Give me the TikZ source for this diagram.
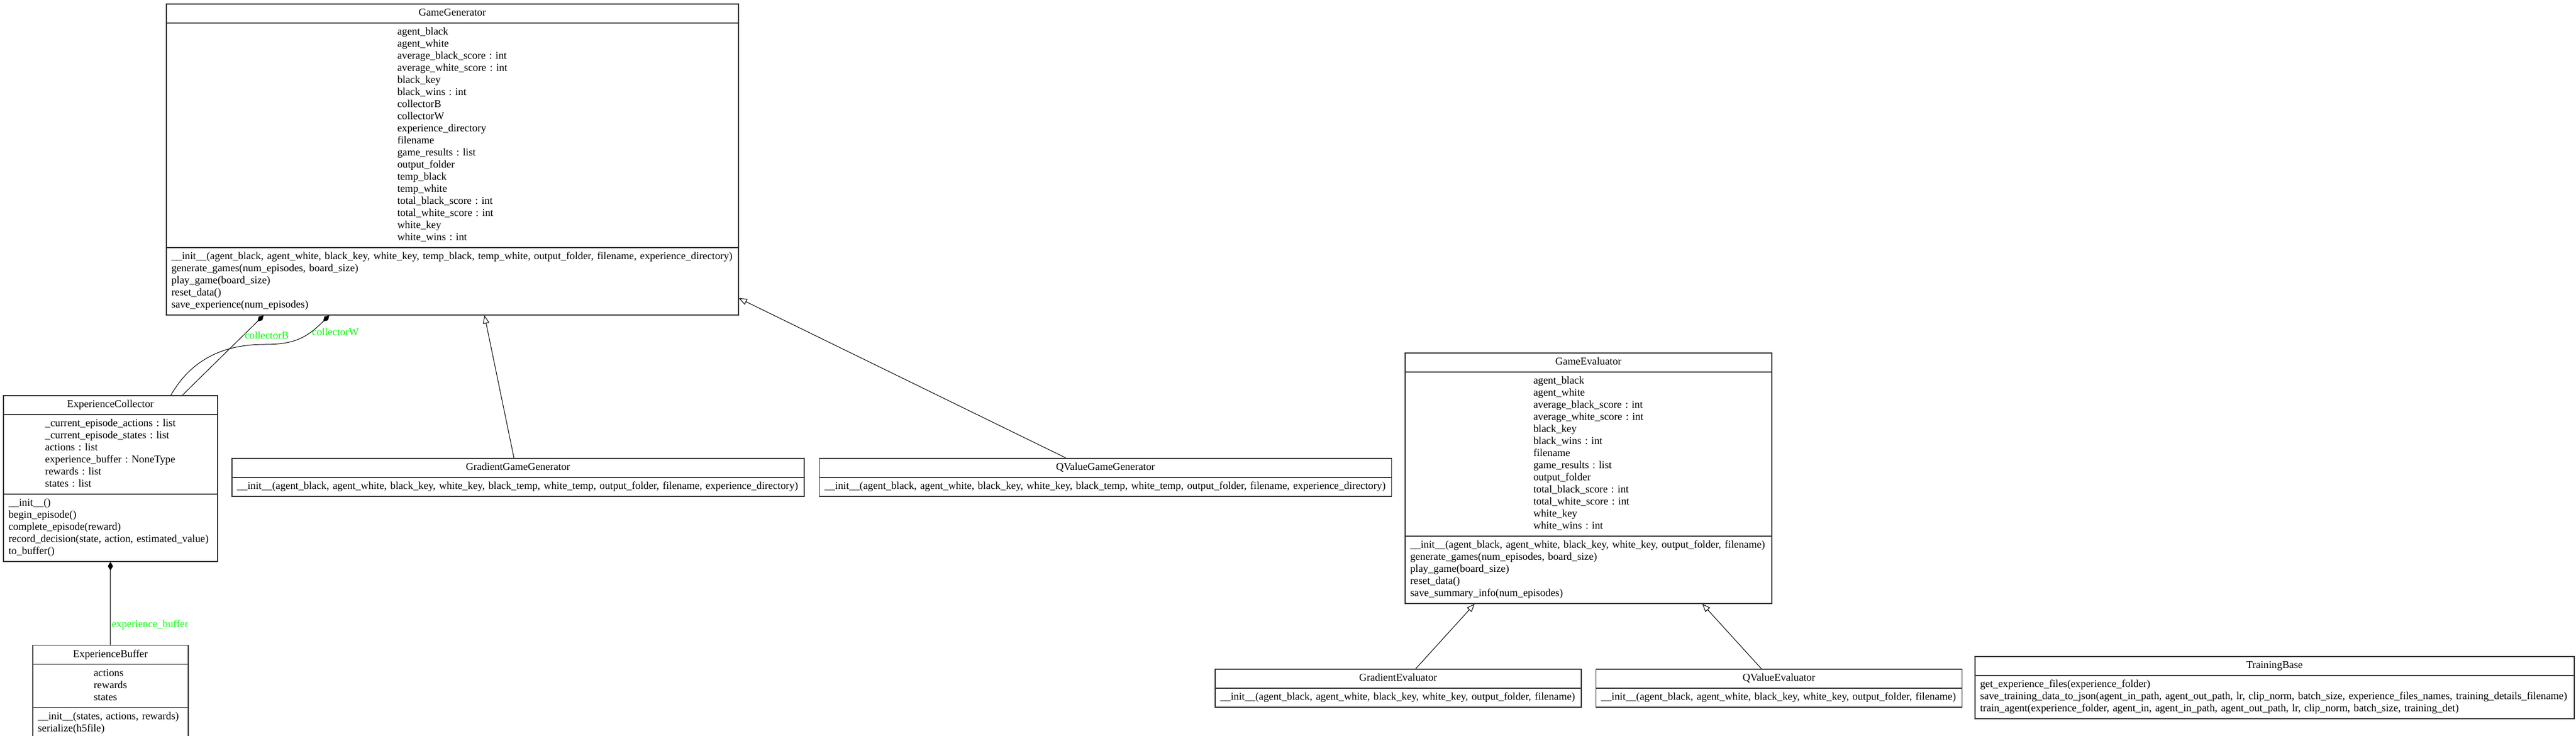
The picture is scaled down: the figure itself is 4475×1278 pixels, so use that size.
\documentclass[tikz,border=0pt]{standalone}
\usepackage{fontspec}
\setmainfont{Liberation Serif}
\usetikzlibrary{arrows.meta,positioning,shapes.multipart}
\tikzset{
  umlclass/.style={rectangle split, rectangle split parts=3, draw=black!80, line width=0.8pt, align=left, inner xsep=4.5pt, inner ysep=2.6pt, anchor=north west},
  umlshort/.style={umlclass, rectangle split parts=2},
  gen/.style={-{Triangle[open, length=7pt, width=5.5pt]}, line width=0.5pt},
  compo/.style={-{Diamond[length=7.5pt, width=4.5pt]}, line width=0.5pt},
  lbl/.style={text=green, inner sep=1pt, anchor=west}
}

\begin{document}
\begin{tikzpicture}[x=0.5pt, y=-0.5pt, font=\fontsize{9.15}{10.5}\selectfont\frenchspacing]
  \useasboundingbox (0,0) rectangle (4475,1278);

  % generators
  \node[umlclass, text width=488pt] (gamegen) at (288,6) {\makebox[\linewidth]{\strut GameGenerator}
    \nodepart{two}\makebox[\linewidth]{\begin{tabular}{@{}l@{}}agent\_black\\agent\_white\\average\_black\_score : int\\average\_white\_score : int\\black\_key\\black\_wins : int\\collectorB\\collectorW\\experience\_directory\\filename\\game\_results : list\\output\_folder\\temp\_black\\temp\_white\\total\_black\_score : int\\total\_white\_score : int\\white\_key\\white\_wins : int\end{tabular}}
    \nodepart{three}\begin{tabular}{@{}l@{}}\_\_init\_\_(agent\_black, agent\_white, black\_key, white\_key, temp\_black, temp\_white, output\_folder, filename, experience\_directory)\\generate\_games(num\_episodes, board\_size)\\play\_game(board\_size)\\reset\_data()\\save\_experience(num\_episodes)\end{tabular}};
  \node[umlshort, text width=488pt] (gradgen) at (402,795) {\makebox[\linewidth]{\strut GradientGameGenerator}
    \nodepart{two}\begin{tabular}{@{}l@{}}\_\_init\_\_(agent\_black, agent\_white, black\_key, white\_key, black\_temp, white\_temp, output\_folder, filename, experience\_directory)\end{tabular}};
  \node[umlshort, text width=488pt, right=12.5pt of gradgen] (qvalgen) {\makebox[\linewidth]{\strut QValueGameGenerator}
    \nodepart{two}\begin{tabular}{@{}l@{}}\_\_init\_\_(agent\_black, agent\_white, black\_key, white\_key, black\_temp, white\_temp, output\_folder, filename, experience\_directory)\end{tabular}};

  % experience
  \node[umlclass, text width=177pt] (expcoll) at (5,686) {\makebox[\linewidth]{\strut ExperienceCollector}
    \nodepart{two}\makebox[\linewidth]{\begin{tabular}{@{}l@{}}\_current\_episode\_actions : list\\\_current\_episode\_states : list\\actions : list\\experience\_buffer : NoneType\\rewards : list\\states : list\end{tabular}}
    \nodepart{three}\begin{tabular}{@{}l@{}}\_\_init\_\_()\\begin\_episode()\\complete\_episode(reward)\\record\_decision(state, action, estimated\_value)\\to\_buffer()\end{tabular}};
  \node[umlclass, text width=126pt, below=72pt of expcoll] (expbuf) {\makebox[\linewidth]{\strut ExperienceBuffer}
    \nodepart{two}\makebox[\linewidth]{\begin{tabular}{@{}l@{}}actions\\rewards\\states\end{tabular}}
    \nodepart{three}\begin{tabular}{@{}l@{}}\_\_init\_\_(states, actions, rewards)\\serialize(h5file)\end{tabular}};

  % evaluators
  \node[umlclass, text width=309.5pt] (gameeval) at (2440,612) {\makebox[\linewidth]{\strut GameEvaluator}
    \nodepart{two}\makebox[\linewidth]{\begin{tabular}{@{}l@{}}agent\_black\\agent\_white\\average\_black\_score : int\\average\_white\_score : int\\black\_key\\black\_wins : int\\filename\\game\_results : list\\output\_folder\\total\_black\_score : int\\total\_white\_score : int\\white\_key\\white\_wins : int\end{tabular}}
    \nodepart{three}\begin{tabular}{@{}l@{}}\_\_init\_\_(agent\_black, agent\_white, black\_key, white\_key, output\_folder, filename)\\generate\_games(num\_episodes, board\_size)\\play\_game(board\_size)\\reset\_data()\\save\_summary\_info(num\_episodes)\end{tabular}};
  \node[umlshort, text width=309pt] (gradeval) at (2110,1161) {\makebox[\linewidth]{\strut GradientEvaluator}
    \nodepart{two}\begin{tabular}{@{}l@{}}\_\_init\_\_(agent\_black, agent\_white, black\_key, white\_key, output\_folder, filename)\end{tabular}};
  \node[umlshort, text width=309pt, right=12pt of gradeval] (qvaleval) {\makebox[\linewidth]{\strut QValueEvaluator}
    \nodepart{two}\begin{tabular}{@{}l@{}}\_\_init\_\_(agent\_black, agent\_white, black\_key, white\_key, output\_folder, filename)\end{tabular}};

  % training
  \node[umlshort, text width=511.5pt] (trainbase) at (3430,1139) {\makebox[\linewidth]{\strut TrainingBase}
    \nodepart{two}\begin{tabular}{@{}l@{}}get\_experience\_files(experience\_folder)\\save\_training\_data\_to\_json(agent\_in\_path, agent\_out\_path, lr, clip\_norm, batch\_size, experience\_files\_names, training\_details\_filename)\\train\_agent(experience\_folder, agent\_in, agent\_in\_path, agent\_out\_path, lr, clip\_norm, batch\_size, training\_det)\end{tabular}};

  % composition
  \coordinate (bendW) at (460,598);
  \draw[compo] ([xshift=156pt]expcoll.north west) -- ([xshift=85pt]gamegen.south west) node[lbl, pos=0.75] {collectorB};
  \draw[compo] ([xshift=146pt]expcoll.north west) .. controls +(40,-70) and +(-60,0) .. (bendW) .. controls +(50,0) and +(-40,40) .. ([xshift=142pt]gamegen.south west) node[lbl, pos=0.7] {collectorW};
  \draw[compo] (expbuf.north) -- (expcoll.south) node[lbl, pos=0.24] {experience\_buffer};

  % inheritance
  \draw[gen] (gradgen) -- (gamegen);
  \draw[gen] (qvalgen) -- (gamegen);
  \draw[gen] (gradeval) -- (gameeval);
  \draw[gen] (qvaleval) -- (gameeval);
\end{tikzpicture}
\end{document}
